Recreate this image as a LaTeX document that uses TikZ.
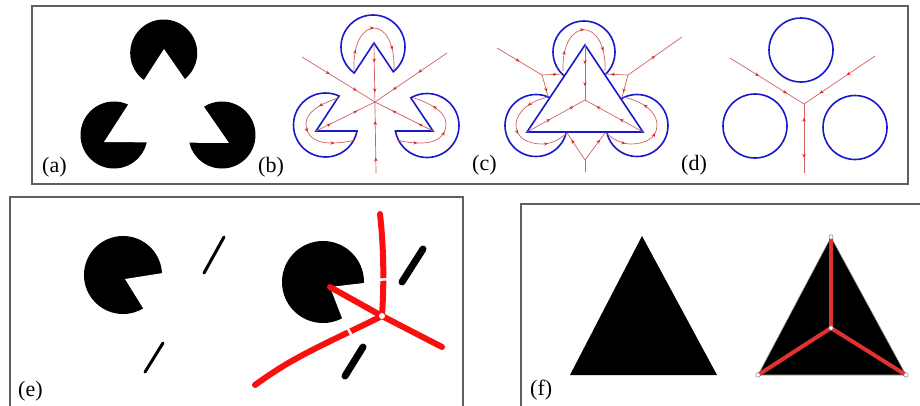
\documentclass[tikz,border=0pt]{standalone}
\usepackage{fontspec}
\setmainfont{Liberation Serif}
\usetikzlibrary{decorations.markings,arrows.meta}
\definecolor{pblue}{RGB}{25,25,200}
\definecolor{pline}{RGB}{205,100,100}
\definecolor{parr}{RGB}{235,30,30}
\definecolor{pframe}{RGB}{95,95,95}
\definecolor{ered}{RGB}{250,15,15}
\definecolor{fred}{RGB}{225,50,50}
\tikzset{
  frame/.style={draw=pframe, line width=1.4pt},
  bl/.style={draw=pblue, line width=1.6pt},
  rl/.style={draw=pline, line width=0.7pt},
  ma/.style={postaction={decorate,decoration={markings,mark=at position #1 with {\arrow{Stealth[length=4pt,width=3.4pt,color=parr]}}}}},
  mr/.style={postaction={decorate,decoration={markings,mark=at position #1 with {\arrowreversed{Stealth[length=4pt,width=3.4pt,color=parr]}}}}},
  lab/.style={anchor=base west, inner sep=0pt, font=\fontsize{22}{26}\selectfont},
  eline/.style={draw=ered, line width=6pt, line cap=round},
  fline/.style={draw=fred, line width=4pt},
  fdot/.style={fill=white, draw=gray, line width=0.5pt},
}
\begin{document}
\begin{tikzpicture}[x=1pt,y=-1pt]
\useasboundingbox (0,0) rectangle (920,405);
\clip (0,0) rectangle (920,405);
\fill[white] (0,0) rectangle (920,405);

% frames
\draw[frame] (32,6) rectangle (908,184);
\draw[frame] (10,197) rectangle (463,440);
\draw[frame] (521,204) rectangle (940,440);

% ---------- (a)
\fill (163.7,53) circle[radius=33.5];
\fill (114,135) circle[radius=33.5];
\fill (222,135) circle[radius=33.5];
\fill[white] (104,142) -- (164,49) -- (229,143) -- cycle;
\node[lab] (la) at (42,172) {(a)};

% ---------- (b)
\draw[bl] (373,47) circle[radius=32];
\draw[bl] (325.5,125) circle[radius=32];
\draw[bl] (427,125.5) circle[radius=32];
\fill[white] (316,131) -- (374,43) -- (433,131) -- cycle;
\begin{scope}
  \clip (373,47) circle[radius=32.8];
  \draw[bl, line join=miter] (316,131) -- (374,43) -- (433,131) -- cycle;
\end{scope}
\begin{scope}
  \clip (325.5,125) circle[radius=32.8];
  \draw[bl, line join=miter] (316,131) -- (374,43) -- (433,131) -- cycle;
\end{scope}
\begin{scope}
  \clip (427,125.5) circle[radius=32.8];
  \draw[bl, line join=miter] (316,131) -- (374,43) -- (433,131) -- cycle;
\end{scope}
\draw[rl, ma=0.38, ma=0.75] (302,57) -- (375,102);
\draw[rl, ma=0.4, ma=0.75] (447,53) -- (375,102);
\draw[rl, mr=0.3, mr=0.75] (375,102) -- (433,131);
\draw[rl, mr=0.3, mr=0.75] (375,102) -- (316,131);
\draw[rl, ma=0.15, ma=0.38, mr=0.6, mr=0.88] (374,43) -- (376,173);
\draw[rl, ma=0.2, ma=0.5, ma=0.8] (354,70) .. controls (352,14) and (396,14) .. (394,70);
\draw[rl, ma=0.2, ma=0.5, ma=0.8] (338,98) .. controls (320,104) and (306,112) .. (306,124) .. controls (306,136) and (316,143) .. (330,143) .. controls (340,143) and (348,142) .. (355,140);
\draw[rl, ma=0.2, ma=0.5, ma=0.8] (397,140) .. controls (404,142) and (412,143) .. (422,143) .. controls (436,143) and (446,136) .. (446,124) .. controls (446,112) and (432,104) .. (414,98);
\node[lab] (lb) at (258,172) {(b)};

% ---------- (c)
\draw[bl] (584,52) circle[radius=31];
\draw[bl] (536,125.5) circle[radius=31];
\draw[bl] (637,125.5) circle[radius=31];
\fill[white] (527,132) -- (585,45) -- (643,132) -- cycle;
\draw[bl, line join=miter] (527,132) -- (585,45) -- (643,132) -- cycle;
\draw[rl, ma=0.35, ma=0.75] (585,45) -- (585,100);
\draw[rl, ma=0.4, ma=0.8] (527,132) -- (585,100);
\draw[rl, ma=0.4, ma=0.8] (643,132) -- (585,100);
\draw[rl, ma=0.2, ma=0.5, ma=0.8] (563,71) .. controls (561,16) and (607,16) .. (605,71);
\draw[rl, ma=0.2, ma=0.5, ma=0.8] (548,97) .. controls (530,101) and (516,112) .. (516,125) .. controls (516,138) and (528,144) .. (542,144) .. controls (552,144) and (560,139) .. (567,133);
\draw[rl, ma=0.2, ma=0.5, ma=0.8] (606,133) .. controls (613,139) and (621,144) .. (631,144) .. controls (645,144) and (657,138) .. (657,125) .. controls (657,112) and (643,101) .. (623,97);
\draw[rl, ma=0.5] (497,48) -- (542,75);
\draw[rl, ma=0.75] (542,75) -- (562,74);
\draw[rl, ma=0.8] (542,75) -- (548,96);
\draw[rl, mr=0.5] (682,37) -- (628,75);
\draw[rl, ma=0.75] (628,75) -- (605,74);
\draw[rl, ma=0.8] (628,75) -- (622,97);
\draw[rl] (585,172) -- (585,160);
\draw[rl, ma=0.75] (585,160) -- (567,133);
\draw[rl, ma=0.75] (585,160) -- (605,133);
\node[lab] (lc) at (472,170) {(c)};

% ---------- (d)
\draw[bl] (801,50) circle[radius=32];
\draw[bl] (755,126) circle[radius=32];
\draw[bl] (855,127.5) circle[radius=32];
\draw[rl, ma=0.39, ma=0.77] (730,58) -- (804,104);
\draw[rl, ma=0.4, ma=0.78] (875,56) -- (804,104);
\draw[rl, mr=0.2, ma=0.78] (804,104) -- (804,173);
\node[lab] (ld) at (681,170) {(d)};

% ---------- (e) left
\fill (123,275) circle[radius=39];
\fill[white] (125,279) -- (201,267) -- (161,337) -- cycle;
\draw[line width=3pt, line cap=round] (204,273) -- (224,237);
\draw[line width=3pt, line cap=round] (145,372) -- (163,343);
% (e) right
\fill (323,282) circle[radius=41];
\fill[white] (330,287) -- (398,279) -- (354,349) -- cycle;
\draw[line width=7pt, line cap=round] (402,282) -- (423,249);
\draw[line width=7pt, line cap=round] (345,376) -- (363,347);
\draw[eline] (382,316) -- (330,287);
\draw[eline] (382,316) .. controls (384,285) and (384,250) .. (380,214);
\draw[eline] (382,316) -- (442,347);
\draw[eline] (382,316) .. controls (350,332) and (320,345) .. (290,362) .. controls (278,369) and (266,377) .. (255,385);
\draw[white, line width=2.5pt] (375,280) -- (390,279);
\draw[white, line width=2.5pt] (346,325) -- (354,340);
\fill[white] (382,316) circle[radius=3];
\node[lab] (le) at (18,396) {(e)};

% ---------- (f)
\fill (642,236) -- (570,375) -- (717,375) -- cycle;
\filldraw[draw=gray!70, line width=0.6pt] (831,237) -- (758,375) -- (906,375) -- cycle;
\draw[fline] (831,328) -- (831,237);
\draw[fline] (831,328) -- (758,375);
\draw[fline] (831,328) -- (906,375);
\draw[fdot] (831,237) circle[radius=2.2];
\draw[fdot] (758,375) circle[radius=2.2];
\draw[fdot] (906,375) circle[radius=2.2];
\draw[fdot] (831,328) circle[radius=2.2];
\node[lab] (lf) at (530,395) {(f)};
\end{tikzpicture}
\end{document}
